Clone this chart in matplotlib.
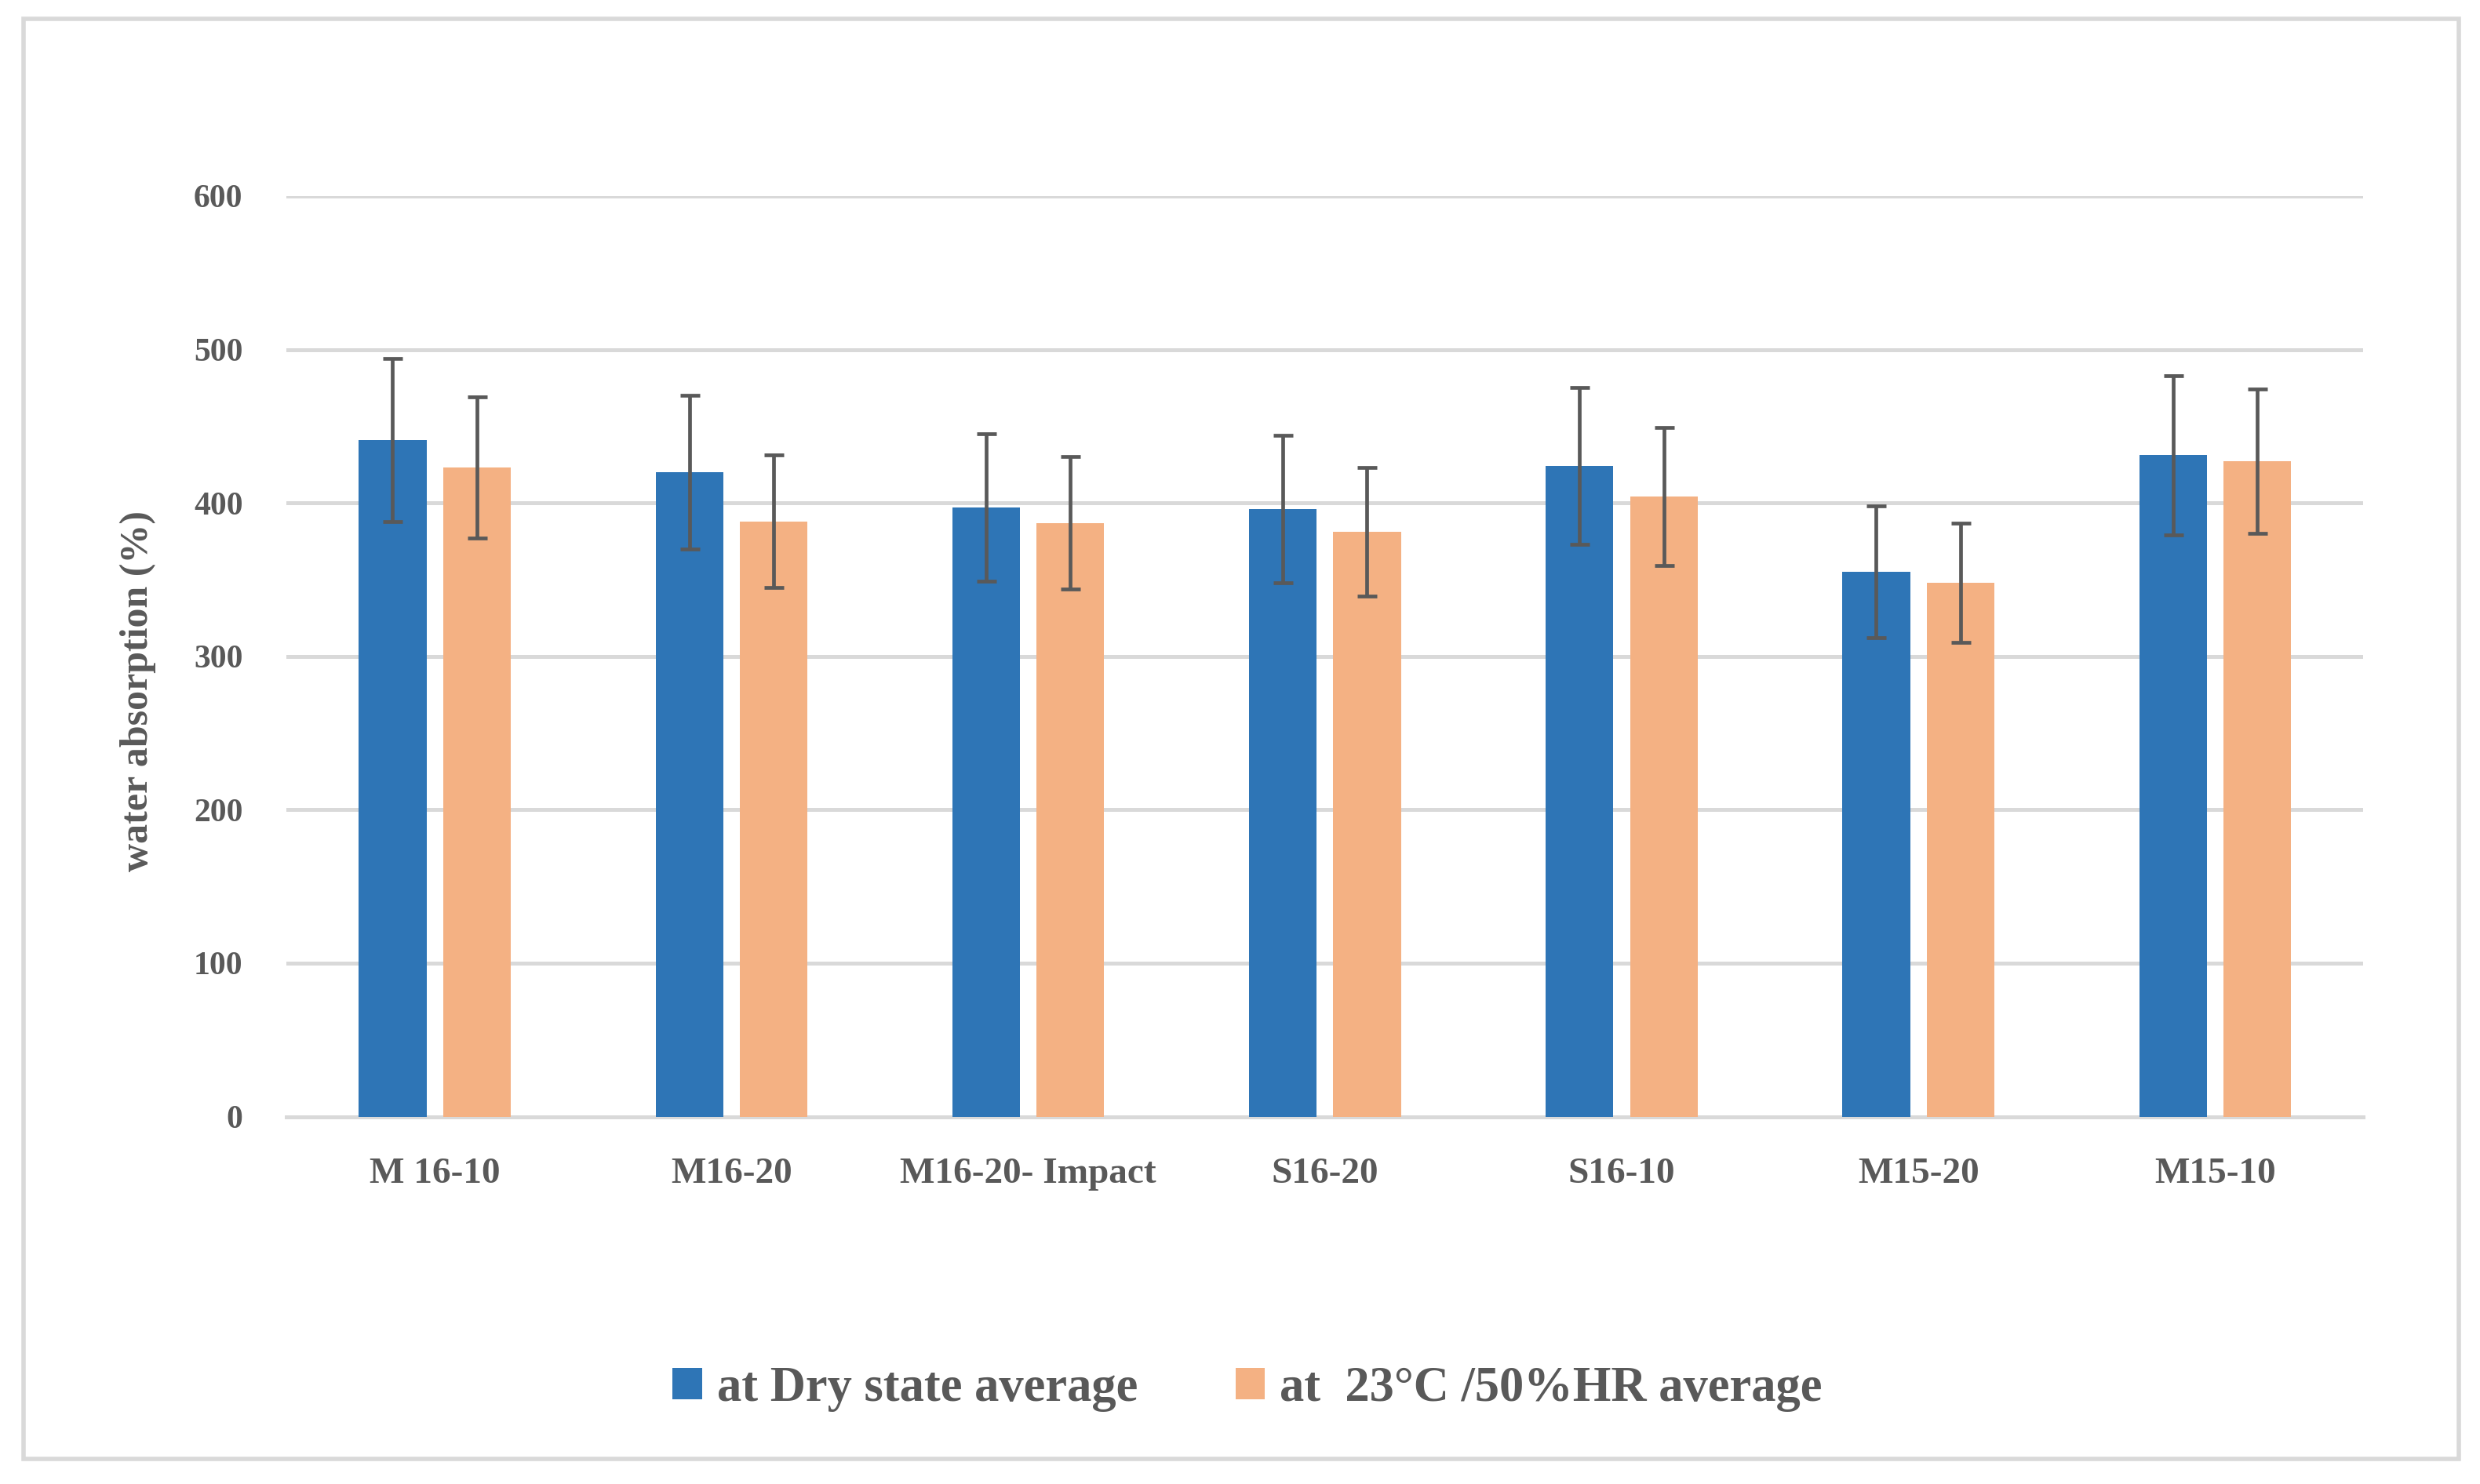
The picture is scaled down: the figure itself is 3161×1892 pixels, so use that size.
import numpy as np
import matplotlib.pyplot as plt
from matplotlib.patches import Rectangle

# ------------------------------------------------------------
# data
# ------------------------------------------------------------
categories = ["M 16-10", "M16-20", "M16-20- Impact", "S16-20", "S16-10", "M15-20", "M15-10"]
dry_avg = [441, 420, 397, 396, 424, 355, 431]
dry_err = [53, 50, 48, 48, 51, 43, 52]
hr_avg = [423, 388, 387, 381, 404, 348, 427]
hr_err = [46, 43, 43, 42, 45, 39, 47]
yticks = [0, 100, 200, 300, 400, 500, 600]

label_dry = "at Dry state average"
label_hr = "at  23°C /50%HR average"

# ------------------------------------------------------------
# style
# ------------------------------------------------------------
TXT = "#595959"
GRID = "#d9d9d9"
BLUE = "#2E75B6"
ORANGE = "#F4B183"

plt.rcParams['font.family'] = ['Liberation Serif', 'DejaVu Serif']
plt.rcParams['font.weight'] = 'bold'

fig = plt.figure(figsize=(3161 / 200, 1892 / 200), dpi=200)
ax = fig.add_axes([0.1155, 0.2476, 0.8375, 0.6203])

x = np.arange(len(categories))
w = 0.228
off = 0.142

ax.bar(x - off, dry_avg, w, color=BLUE, label=label_dry, zorder=2)
ax.bar(x + off, hr_avg, w, color=ORANGE, label=label_hr, zorder=2)

ekw = dict(fmt='none', ecolor=TXT, elinewidth=1.7, capsize=4.5, capthick=1.7, zorder=3)
ax.errorbar(x - off, dry_avg, yerr=dry_err, **ekw)
ax.errorbar(x + off, hr_avg, yerr=hr_err, **ekw)

ax.set_xlim(-0.5, len(categories) - 0.5)
ax.set_ylim(0, 600)
ax.set_yticks(yticks)
ax.set_xticks(x)
ax.set_xticklabels(categories)

ax.yaxis.grid(True, color=GRID, linewidth=1.8, zorder=0)
ax.set_axisbelow(True)
for s in ['top', 'right', 'left']:
    ax.spines[s].set_visible(False)
ax.spines['bottom'].set_color(GRID)
ax.spines['bottom'].set_linewidth(1.8)
ax.spines['bottom'].set_zorder(1)

ax.tick_params(axis='both', length=0, labelcolor=TXT)
ax.tick_params(axis='y', pad=20, labelsize=15)
ax.tick_params(axis='x', pad=19, labelsize=17)

ax.set_ylabel("water absorption (%)", fontsize=18, color=TXT, fontweight='bold')
ax.yaxis.set_label_coords(-0.0627, 0.462)

fig.legend(loc='center', bbox_to_anchor=(0.503, 0.064), ncol=2, frameon=False,
           fontsize=22.5, handlelength=0.6, handleheight=0.6, handletextpad=0.3,
           columnspacing=2.0, labelcolor=TXT)

# light grey frame around the whole chart
fig.patches.append(Rectangle((30 / 3161, 1 - 1860 / 1892), (3134 - 30) / 3161, (1860 - 24) / 1892,
                             transform=fig.transFigure, fill=False, edgecolor=GRID, linewidth=2))

fig.savefig("out.png", dpi=200, facecolor='white')
